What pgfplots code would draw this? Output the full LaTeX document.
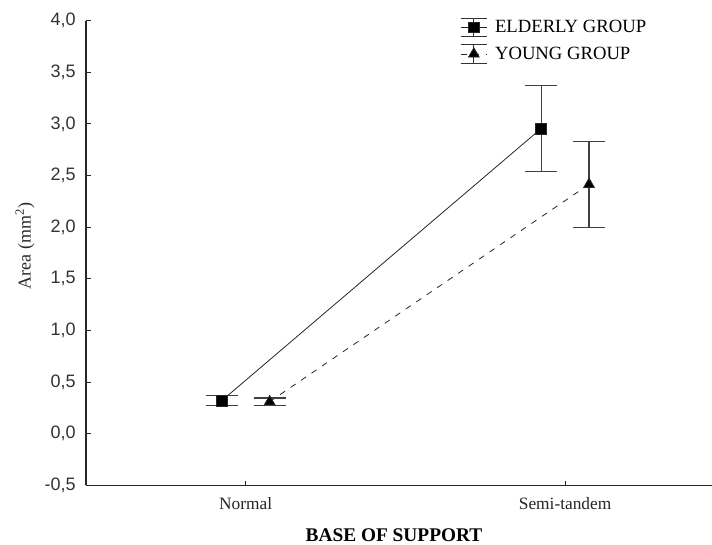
\documentclass[border=0pt]{standalone}
\usepackage{pgfplots}
\pgfplotsset{compat=1.18}
\usepackage{fontspec}
\setmainfont{Liberation Serif}
\newfontfamily\arialfont{Liberation Sans}
\begin{document}
\begin{tikzpicture}
\useasboundingbox (-64.5pt,-44pt) rectangle (469.5pt,364pt);
\begin{axis}[
  scale only axis,
  width=469.5pt, height=348.5pt,
  xmin=-0.5, xmax=1.46,
  ymin=-0.5, ymax=4.0,
  axis lines*=left,
  axis line style={line width=1pt, black!85},
  xtick={0,1},
  xticklabels={Normal,Semi-tandem},
  ytick={-0.5,0,0.5,1,1.5,2,2.5,3,3.5,4},
  tick align=inside,
  major tick length=3.5pt,
  tick style={black!85, line width=0.8pt},
  /pgf/number format/.cd, use comma, fixed, fixed zerofill, precision=1, assume math mode=true,
  /pgfplots/.cd,
  yticklabel style={font=\arialfont\fontsize{13.5}{16}\selectfont, text=black!80, anchor=east, inner sep=0pt, xshift=-7.5pt},
  xticklabel style={font=\fontsize{13}{15}\selectfont, text=black!85, anchor=center, inner sep=0pt, yshift=-14pt},
  xlabel={\textbf{BASE OF SUPPORT}},
  xlabel style={font=\fontsize{14.5}{17}\selectfont, at={(rel axis cs:0.492,0)}, anchor=center, yshift=-37.3pt},
  ylabel={Area (mm\textsuperscript{2})},
  ylabel style={font=\fontsize{13.5}{16}\selectfont, text=black!85, at={(rel axis cs:0,0.515)}, anchor=center, yshift=45.75pt},
  legend cell align=left,
  legend style={draw=none, fill=none, font=\fontsize{14}{16}\selectfont, at={(rel axis cs:0.597,1.007)}, anchor=north west, inner sep=0pt, row sep=5pt, column sep=3.5pt},
  legend image code/.code={
    \draw[black!80, line width=0.8pt, solid] (0pt,-7pt) -- (20pt,-7pt) (0pt,7pt) -- (20pt,7pt) (10pt,-7pt) -- (10pt,7pt);
    \draw[mark repeat=2, mark phase=2, #1] plot coordinates {(0pt,0pt) (10pt,0pt) (20pt,0pt)};
  },
]
\addplot[black!85, line width=0.6pt, mark=square*, mark size=4pt, mark options={solid, fill=black},
  error bars/.cd, y dir=both, y explicit,
  error bar style={solid, line width=0.9pt, black!75},
  error mark options={rotate=90, mark size=12pt, line width=0.9pt, black!75}]
  coordinates {(-0.075,0.32) +- (0,0.048) (0.925,2.955) +- (0,0.415)};
\addlegendentry{ELDERLY GROUP}
\addplot[black!85, line width=0.6pt, dash pattern=on 4.5pt off 5pt, mark=triangle*, mark size=4.6pt, mark options={solid, fill=black},
  error bars/.cd, y dir=both, y explicit,
  error bar style={solid, line width=0.9pt, black!75},
  error mark options={rotate=90, mark size=12pt, line width=0.9pt, black!75}]
  coordinates {(0.075,0.31) +- (0,0.035) (1.075,2.415) +- (0,0.415)};
\addlegendentry{YOUNG GROUP}
\end{axis}
\end{tikzpicture}
\end{document}
